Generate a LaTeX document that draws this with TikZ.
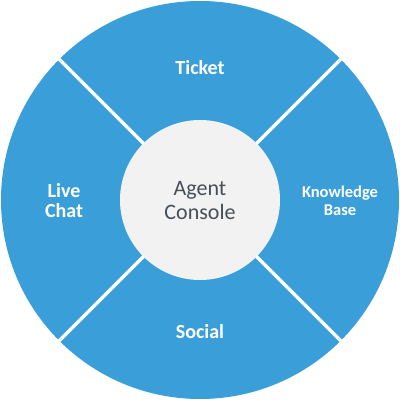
\documentclass[tikz,border=0pt]{standalone}
\usepackage{fontspec}
\setmainfont{Carlito}
\usetikzlibrary{calc}
\definecolor{ringblue}{HTML}{3A9FD8}
\definecolor{hubgray}{HTML}{F2F2F2}
\definecolor{hubtext}{HTML}{454F5A}
\tikzset{
  seglabel/.style={text=white,font=\bfseries\fontsize{20}{20}\selectfont,align=center},
  hublabel/.style={text=hubtext,font=\fontsize{22}{24}\selectfont,align=center},
  divider/.style={draw=white,line width=3.5pt}
}
\begin{document}
\begin{tikzpicture}[x=1pt,y=1pt]
\useasboundingbox (0,0) rectangle (400,400);
\node[circle,fill=ringblue,minimum size=398pt,inner sep=0pt] (ring) at (200,200) {};
\coordinate (o1) at ($(200,200)+(45:199)$);
\coordinate (o2) at ($(200,200)+(135:199)$);
\coordinate (o3) at ($(200,200)+(225:199)$);
\coordinate (o4) at ($(200,200)+(315:199)$);
\draw[divider] (o1) -- (o3);
\draw[divider] (o2) -- (o4);
\node[circle,fill=hubgray,minimum size=160pt,inner sep=0pt] (hub) at (200,200) {};
\node[hublabel] (hubtxt) at (200,199) {Agent\\Console};
\node[seglabel] (ticket) at (200,332) {Ticket};
\node[seglabel] (social) at (200,68) {Social};
\node[seglabel] (chat) at (64,199) {Live\\Chat};
\node[seglabel,font=\bfseries\fontsize{16.5}{18.5}\selectfont] (kb) at (340,199) {Knowledge\\Base};
\end{tikzpicture}
\end{document}
